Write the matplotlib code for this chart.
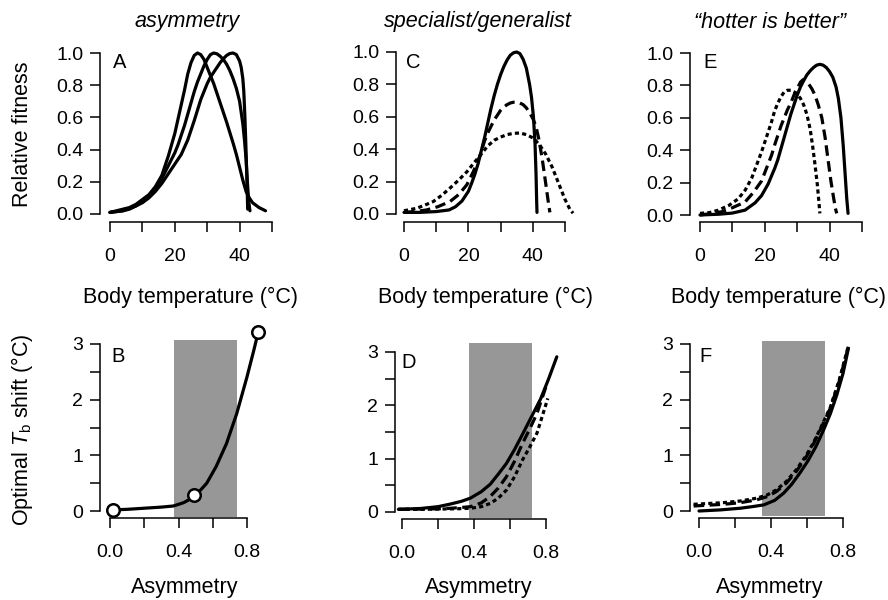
import matplotlib
matplotlib.use('Agg')
import numpy as np
from matplotlib import pyplot as plt
from matplotlib.patches import Rectangle

plt.rcParams['font.family'] = ['Liberation Sans', 'DejaVu Sans']
plt.rcParams['mathtext.fontset'] = 'custom'
plt.rcParams['mathtext.rm'] = 'Liberation Sans'
plt.rcParams['mathtext.it'] = 'Liberation Sans:italic'

# panel A: asymmetry (three curves)
a_t1 = [0, 2, 4, 6, 8, 10, 12, 14, 16, 18, 19, 20, 21, 22, 23, 24, 25, 26, 27, 28, 29, 30, 31, 32,
        34, 36, 38, 39, 40, 41, 42, 43, 44, 46, 48]
a_f1 = [0.01, 0.02, 0.03, 0.04, 0.06, 0.09, 0.12, 0.17, 0.24, 0.36, 0.43, 0.50, 0.59, 0.68, 0.77,
        0.87, 0.94, 0.985, 1.0, 0.99, 0.96, 0.91, 0.86, 0.81, 0.69, 0.57, 0.44, 0.37, 0.29, 0.21,
        0.14, 0.10, 0.07, 0.04, 0.02]
a_t2 = [0, 2, 4, 6, 8, 10, 12, 14, 16, 18, 20, 21, 22, 23, 24, 25, 26, 27, 28, 29, 30, 31, 32, 33,
        34, 35, 36, 37, 38, 39, 40, 41, 41.5, 42, 42.4, 42.8, 43.2]
a_f2 = [0.01, 0.015, 0.02, 0.035, 0.05, 0.08, 0.11, 0.16, 0.22, 0.30, 0.38, 0.43, 0.49, 0.55, 0.62,
        0.69, 0.76, 0.82, 0.87, 0.92, 0.96, 0.99, 1.0, 0.995, 0.98, 0.96, 0.93, 0.89, 0.84, 0.78,
        0.70, 0.56, 0.46, 0.34, 0.2, 0.08, 0.02]
a_t3 = [0, 2, 4, 6, 8, 10, 12, 14, 16, 18, 20, 22, 24, 26, 28, 29, 30, 31, 32, 33, 34, 35, 36, 37,
        38, 39, 39.5, 40, 40.5, 41, 41.3, 41.6, 41.9, 42.2, 42.5]
a_f3 = [0.01, 0.015, 0.02, 0.03, 0.05, 0.07, 0.10, 0.14, 0.19, 0.25, 0.31, 0.37, 0.46, 0.58, 0.71,
        0.76, 0.81, 0.85, 0.88, 0.91, 0.94, 0.965, 0.985, 0.997, 1.0, 0.99, 0.97, 0.95, 0.91, 0.84,
        0.76, 0.62, 0.45, 0.25, 0.03]

# panel C: specialist/generalist
c_t1 = [0, 5, 10, 14, 16, 18, 20, 21, 22, 23, 24, 25, 26, 27, 28, 29, 30, 31, 32, 33, 34, 35, 36,
        37, 38, 39, 39.6, 40.2, 40.7, 41.0, 41.2, 41.3]
c_f1 = [0.01, 0.01, 0.015, 0.025, 0.045, 0.08, 0.14, 0.19, 0.245, 0.31, 0.39, 0.47, 0.56, 0.65,
        0.73, 0.80, 0.86, 0.91, 0.95, 0.98, 0.995, 1.0, 0.99, 0.955, 0.9, 0.8, 0.72, 0.6, 0.43, 0.25,
        0.08, 0.01]
c_t2 = [0, 3.5, 7, 10.5, 14.3, 17, 19.5, 21.5, 23.6, 25, 26, 27, 28, 29, 30, 31, 32, 33, 34, 35, 36,
        37, 38, 39, 40, 41, 42, 43, 44, 44.7, 45.3]
c_f2 = [0.01, 0.015, 0.025, 0.045, 0.077, 0.12, 0.18, 0.26, 0.36, 0.45, 0.50, 0.54, 0.58, 0.61,
        0.64, 0.66, 0.675, 0.685, 0.69, 0.69, 0.685, 0.675, 0.655, 0.625, 0.59, 0.54, 0.45, 0.33,
        0.19, 0.09, 0.01]
c_t3 = [0, 3.9, 6.5, 9.1, 11.7, 14.3, 17, 19.5, 21.5, 23.6, 26, 28, 30, 32, 34, 36, 38, 40, 42, 44,
        46, 48, 50, 51.5, 52.5]
c_f3 = [0.02, 0.035, 0.055, 0.077, 0.115, 0.16, 0.21, 0.26, 0.31, 0.36, 0.42, 0.455, 0.475, 0.49,
        0.498, 0.5, 0.49, 0.47, 0.43, 0.37, 0.29, 0.19, 0.09, 0.03, 0.005]

# panel E: hotter is better
e_t1 = [0, 6, 10, 13.9, 17, 19, 21, 23.1, 24, 25, 26, 27, 28, 29, 30, 31, 32, 33, 34, 35, 36, 37,
        38, 39, 40, 41, 42, 42.7, 43.5, 44.2, 44.8, 45.3, 45.7]
e_f1 = [0.0, 0.005, 0.012, 0.03, 0.075, 0.12, 0.19, 0.29, 0.34, 0.41, 0.48, 0.55, 0.62, 0.68, 0.74,
        0.79, 0.83, 0.865, 0.89, 0.91, 0.925, 0.93, 0.925, 0.91, 0.885, 0.85, 0.79, 0.72, 0.6, 0.43,
        0.25, 0.1, 0.01]
e_t2 = [0, 3, 6.7, 10, 13.9, 16.5, 19, 22.1, 23, 24, 25, 26, 27, 28, 29, 30, 31, 31.8, 32.5, 33.5,
        34.5, 35.5, 36.5, 37.6, 38.6, 39.6, 40.4, 41.2, 41.8, 42.2]
e_f2 = [0.0, 0.008, 0.02, 0.045, 0.08, 0.14, 0.21, 0.37, 0.43, 0.49, 0.55, 0.60, 0.65, 0.69, 0.74,
        0.78, 0.82, 0.835, 0.83, 0.81, 0.78, 0.74, 0.68, 0.60, 0.48, 0.33, 0.21, 0.11, 0.04, 0.01]
e_t3 = [0, 3, 5.7, 9, 11.8, 14, 16, 19, 20, 22, 23, 24, 25, 26, 27, 28, 29, 30, 31, 32, 33, 34,
        34.8, 35.5, 36.2, 36.7, 37]
e_f3 = [0.01, 0.015, 0.03, 0.06, 0.10, 0.155, 0.23, 0.39, 0.45, 0.57, 0.64, 0.69, 0.73, 0.76, 0.77,
        0.77, 0.76, 0.745, 0.72, 0.68, 0.62, 0.53, 0.42, 0.31, 0.19, 0.08, 0.01]

# panel B
b_x = [0.02, 0.1, 0.2, 0.3, 0.37, 0.43, 0.46, 0.49, 0.53, 0.565, 0.62, 0.68, 0.74, 0.80, 0.84, 0.866]
b_y = [0.02, 0.03, 0.05, 0.07, 0.09, 0.15, 0.2, 0.27, 0.38, 0.50, 0.80, 1.21, 1.75, 2.41, 2.89, 3.22]
b_pts_x = [0.02, 0.49, 0.866]
b_pts_y = [0.02, 0.28, 3.22]

# panel D
d_x1 = [-0.02, 0.1, 0.2, 0.27, 0.33, 0.38, 0.44, 0.49, 0.535, 0.58, 0.625, 0.67, 0.72, 0.77, 0.815, 0.86]
d_y1 = [0.05, 0.065, 0.1, 0.15, 0.2, 0.26, 0.38, 0.52, 0.71, 0.91, 1.17, 1.46, 1.79, 2.12, 2.5, 2.91]
d_x2 = [-0.02, 0.1, 0.2, 0.27, 0.33, 0.38, 0.44, 0.49, 0.535, 0.58, 0.625, 0.67, 0.71, 0.75, 0.80]
d_y2 = [0.05, 0.055, 0.06, 0.07, 0.085, 0.10, 0.17, 0.29, 0.45, 0.66, 0.95, 1.29, 1.56, 1.85, 2.35]
d_x3 = [-0.02, 0.1, 0.2, 0.3, 0.38, 0.44, 0.49, 0.535, 0.58, 0.625, 0.67, 0.71, 0.75, 0.81]
d_y3 = [0.05, 0.05, 0.055, 0.06, 0.07, 0.1, 0.16, 0.26, 0.41, 0.66, 0.98, 1.22, 1.48, 2.13]

# panel F
f_x1 = [0.0, 0.12, 0.23, 0.3, 0.36, 0.42, 0.47, 0.515, 0.56, 0.605, 0.65, 0.69, 0.73, 0.765, 0.80, 0.83]
f_y1 = [0.0, 0.02, 0.05, 0.08, 0.11, 0.19, 0.32, 0.48, 0.68, 0.90, 1.16, 1.44, 1.75, 2.08, 2.47, 2.92]
f_x2 = [-0.03, 0.135, 0.23, 0.32, 0.38, 0.43, 0.485, 0.54, 0.59, 0.635, 0.68, 0.73, 0.78, 0.83]
f_y2 = [0.09, 0.12, 0.15, 0.2, 0.26, 0.35, 0.5, 0.71, 0.94, 1.2, 1.5, 1.85, 2.34, 2.95]
f_x3 = [-0.03, 0.135, 0.23, 0.32, 0.38, 0.43, 0.485, 0.54, 0.59, 0.635, 0.68, 0.73, 0.78, 0.83]
f_y3 = [0.12, 0.15, 0.18, 0.23, 0.29, 0.38, 0.53, 0.74, 0.97, 1.22, 1.52, 1.87, 2.36, 2.97]

# shaded asymmetry range per bottom panel (x0, x1, y0, y1)
shade_b = (0.375, 0.74, -0.1, 3.08)
shade_d = (0.372, 0.722, -0.11, 3.17)
shade_f = (0.35, 0.70, -0.09, 3.05)

titles = ['asymmetry', 'specialist/generalist', '\u201chotter is better\u201d']
letters = ['A', 'B', 'C', 'D', 'E', 'F']
# letter centres in pixels
letter_pos = [(120, 62), (118, 357), (413, 62), (409, 363), (710, 62), (705, 357)]

W, H = 888, 600
fig = plt.figure(figsize=(W / 100, H / 100), dpi=100)

LW = 2.3
DASH = (3.3, 1.7)
DOT = (1.3, 1.0)


def make_ax(xsp, ysp, xa_px, xb_px, xa, xb, ya_px, yb_px, ya, yb, right, top):
    # pixel layout -> axes with R-style detached axes
    ppx = (xb_px - xa_px) / (xb - xa)
    ppy = (ya_px - yb_px) / (yb - ya)
    x0 = xa + (xsp - xa_px) / ppx
    x1 = xa + (right - xa_px) / ppx
    y0 = ya - (ysp - ya_px) / ppy
    y1 = ya + (ya_px - top) / ppy
    ax = fig.add_axes([xsp / W, (H - ysp) / H, (right - xsp) / W, (ysp - top) / H])
    ax.set_xlim(x0, x1)
    ax.set_ylim(y0, y1)
    ax.patch.set_alpha(0)
    for s in ['top', 'right']:
        ax.spines[s].set_visible(False)
    for s in ['left', 'bottom']:
        ax.spines[s].set_linewidth(1.1)
    ax.tick_params(direction='out', length=7, width=1.1, labelsize=14)
    ax.tick_params(axis='x', pad=12)
    ax.tick_params(axis='y', pad=5)
    return ax


def top_axis(ax):
    ax.set_xticks([0, 10, 20, 30, 40, 50])
    ax.set_xticklabels(['0', '', '20', '', '40', ''])
    ax.set_yticks([0, 0.2, 0.4, 0.6, 0.8, 1.0])
    ax.set_yticklabels(['0.0', '0.2', '0.4', '0.6', '0.8', '1.0'])
    ax.spines['bottom'].set_bounds(0, 50)
    ax.spines['left'].set_bounds(0, 1)


def bottom_axis(ax):
    ax.set_xticks([0, 0.2, 0.4, 0.6, 0.8])
    ax.set_xticklabels(['0.0', '', '0.4', '', '0.8'])
    ax.set_yticks([0, 0.5, 1, 1.5, 2, 2.5, 3])
    ax.set_yticklabels(['0', '', '1', '', '2', '', '3'])
    ax.spines['bottom'].set_bounds(0, 0.8)
    ax.spines['left'].set_bounds(0, 3)


def shade(ax, r):
    ax.add_patch(Rectangle((r[0], r[2]), r[1] - r[0], r[3] - r[2], facecolor='#979797',
                           edgecolor='none', zorder=0, clip_on=False))


def line(ax, x, y, dashes=None):
    ln, = ax.plot(x, y, color='black', lw=LW, clip_on=False, solid_capstyle='round',
                  solid_joinstyle='round')
    if dashes is not None:
        ln.set_dashes(dashes)
    return ln


axA = make_ax(100, 222, 110, 272, 0, 50, 214, 53, 0, 1, 282, 40)
axC = make_ax(396, 222, 404, 565, 0, 50, 214, 52, 0, 1, 578, 40)
axE = make_ax(690, 222, 700, 862, 0, 50, 215, 53, 0, 1, 876, 40)
axB = make_ax(100, 518, 110, 247, 0, 0.8, 511, 344, 0, 3, 268, 322)
axD = make_ax(395, 519, 402, 546, 0, 0.8, 512, 352, 0, 3, 562, 322)
axF = make_ax(690, 518, 699, 843, 0, 0.8, 511, 344, 0, 3, 862, 322)

for ax in [axA, axC, axE]:
    top_axis(ax)
for ax in [axB, axD, axF]:
    bottom_axis(ax)

line(axA, a_t1, a_f1)
line(axA, a_t2, a_f2)
line(axA, a_t3, a_f3)

line(axC, c_t1, c_f1)
line(axC, c_t2, c_f2, DASH)
line(axC, c_t3, c_f3, DOT)

line(axE, e_t1, e_f1)
line(axE, e_t2, e_f2, DASH)
line(axE, e_t3, e_f3, DOT)

shade(axB, shade_b)
line(axB, b_x, b_y)
axB.plot(b_pts_x, b_pts_y, 'o', ms=9, mfc='white', mec='black', mew=1.8, clip_on=False, zorder=5)

shade(axD, shade_d)
line(axD, d_x1, d_y1)
line(axD, d_x2, d_y2, DASH)
line(axD, d_x3, d_y3, DOT)

shade(axF, shade_f)
line(axF, f_x1, f_y1)
line(axF, f_x2, f_y2, DASH)
line(axF, f_x3, f_y3, DOT)

# panel letters
for lab, (px, py) in zip(letters, letter_pos):
    fig.text(px / W, 1 - py / H, lab, fontsize=14.5, ha='center', va='center')

# titles and axis labels in pixel positions
for cx, t in zip([187, 478, 770], titles):
    fig.text(cx / W, 1 - 22 / H, t, fontsize=15.5, style='italic', ha='center', va='center')
for cx in [190, 486, 778]:
    fig.text(cx / W, 1 - 297 / H, 'Body temperature (\u00b0C)', fontsize=15.5, ha='center', va='center')
for cx in [185, 479, 770]:
    fig.text(cx / W, 1 - 587 / H, 'Asymmetry', fontsize=15.5, ha='center', va='center')
fig.text(22 / W, 1 - 134 / H, 'Relative fitness', fontsize=15.5, rotation=90, ha='center', va='center')
fig.text(22 / W, 1 - 430 / H, 'Optimal $\\mathit{T}_\\mathrm{b}$ shift (\u00b0C)', fontsize=15.5,
         rotation=90, ha='center', va='center')

plt.savefig('out.png', dpi=100)
